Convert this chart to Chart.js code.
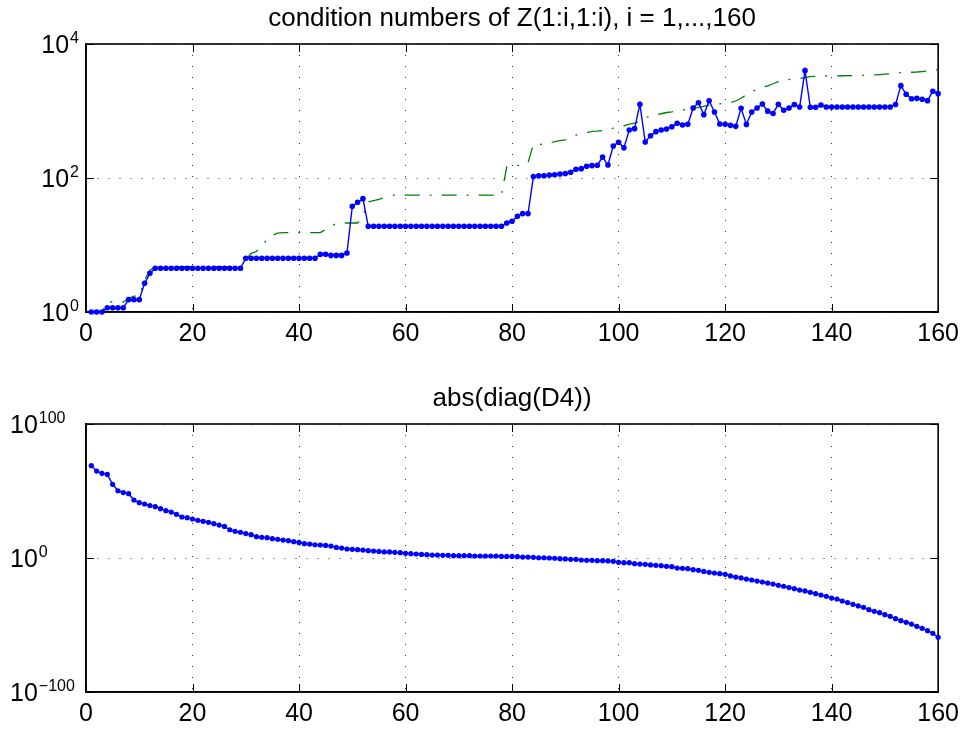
<!DOCTYPE html>
<html><head><meta charset="utf-8">
<script src="https://cdn.jsdelivr.net/npm/chart.js@4.4.1/dist/chart.umd.min.js"></script>
<style>
html,body{margin:0;padding:0;background:#fff;width:966px;height:730px;overflow:hidden}
canvas{position:absolute;left:0}
#top{top:0}
#bot{top:365px}
</style></head><body>
<canvas id="top" width="966" height="365"></canvas>
<canvas id="bot" width="966" height="365"></canvas>
<script>
// ---------- data ----------
const topTitle = 'condition numbers of Z(1:i,1:i), i = 1,...,160';
const bottomTitle = 'abs(diag(D4))';
const xTicks = [0, 20, 40, 60, 80, 100, 120, 140, 160];
const topYTicks = [1, 100, 10000];
const bottomYTicks = [1e-100, 1, 1e100];

// condition number of Z(1:i,1:i), i = 1..160 (blue, dots)
const condZ = [
  1.0, 1.0, 1.0, 1.16, 1.16, 1.16, 1.16, 1.53, 1.53, 1.53,
  2.68, 3.78, 4.49, 4.49, 4.49, 4.49, 4.49, 4.49, 4.49, 4.49,
  4.49, 4.49, 4.49, 4.49, 4.49, 4.49, 4.49, 4.49, 4.49, 6.35,
  6.35, 6.35, 6.35, 6.35, 6.35, 6.35, 6.35, 6.35, 6.35, 6.35,
  6.35, 6.35, 6.35, 7.26, 7.26, 7.0, 7.0, 7.0, 7.6, 37.8,
  43.4, 49.2, 19.0, 19.0, 19.0, 19.0, 19.0, 19.0, 19.0, 19.0,
  19.0, 19.0, 19.0, 19.0, 19.0, 19.0, 19.0, 19.0, 19.0, 19.0,
  19.0, 19.0, 19.0, 19.0, 19.0, 19.0, 19.0, 19.0, 21.3, 22.6,
  26.8, 29.4, 29.4, 105, 108, 108, 111, 112, 115, 117,
  122, 135, 138, 150, 153, 155, 205, 156, 301, 342,
  282, 520, 545, 1262, 345, 428, 492, 520, 538, 583,
  655, 617, 632, 1109, 1331, 882, 1425, 967, 640, 632,
  611, 590, 1096, 631, 966, 1110, 1270, 995, 920, 1260,
  1025, 1110, 1245, 1150, 4000, 1135, 1135, 1230, 1150, 1148,
  1148, 1148, 1148, 1148, 1148, 1148, 1148, 1148, 1148, 1148,
  1148, 1250, 2388, 1775, 1527, 1545, 1494, 1426, 1967, 1815
];

// comparison curve (green, dash-dot)
const boundZ = [
  1.0, 1.0, 1.0, 1.41, 1.41, 1.41, 1.41, 1.6, 1.73, 1.73,
  3.0, 4.2, 4.74, 4.74, 4.74, 4.74, 4.74, 4.74, 4.74, 4.74,
  4.74, 4.74, 4.74, 4.74, 4.74, 4.74, 4.74, 4.74, 4.74, 6.0,
  7.5, 8.0, 9.8, 12, 14, 15, 15.3, 15.3, 15.3, 15.3,
  15.3, 15.3, 15.3, 15.3, 17, 19, 21, 21.3, 21.3, 21.3,
  21.3, 27, 44, 46, 48, 51, 53, 55.7, 55.7, 55.7,
  55.7, 55.7, 55.7, 55.7, 55.7, 55.7, 55.7, 55.7, 55.7, 55.7,
  55.7, 55.7, 55.7, 55.7, 55.7, 55.7, 55.7, 55.7, 147, 150,
  154, 156, 170, 318, 318, 320, 330, 350, 360, 370,
  400, 435, 450, 475, 495, 500, 510, 530, 555, 575,
  600, 635, 660, 710, 790, 850, 880, 910, 950, 970,
  1000, 1035, 1060, 1090, 1130, 1170, 1220, 1250, 1280, 1305,
  1340, 1410, 1550, 1750, 1950, 2100, 2250, 2380, 2550, 2750,
  2880, 2950, 2980, 3050, 3150, 3250, 3300, 3320, 3330, 3340,
  3350, 3360, 3370, 3380, 3400, 3400, 3420, 3450, 3500, 3550,
  3600, 3680, 3730, 3760, 3790, 3820, 3880, 3950, 4080, 4150
];

// log10 of abs(diag(D4)), i = 1..160
const diagD4Log10 = [
  68.9, 64.9, 63.2, 62.4, 55.0, 50.2, 48.8, 48.0, 43.3, 41.3,
  40.3, 39.1, 38.3, 36.8, 35.3, 34.3, 32.6, 30.6, 30.1, 29.1,
  28.1, 27.4, 26.6, 25.6, 24.6, 23.6, 21.1, 19.9, 19.2, 18.2,
  17.4, 15.9, 15.4, 15.2, 14.4, 13.9, 13.4, 12.9, 12.2, 11.6,
  10.7, 10.4, 9.9, 9.7, 9.4, 8.9, 7.9, 7.4, 6.7, 6.5,
  6.2, 5.9, 5.5, 5.2, 4.9, 4.5, 4.5, 4.2, 4.0, 3.5,
  3.2, 3.0, 2.7, 2.5, 2.2, 2.2, 2.0, 2.0, 1.7, 1.7,
  1.7, 1.7, 1.5, 1.5, 1.5, 1.5, 1.5, 1.2, 1.2, 1.2,
  1.0, 0.7, 0.7, 0.5, 0.2, 0.2, 0.0, -0.2, -0.5, -0.7,
  -1.0, -1.0, -1.5, -1.7, -1.7, -2.0, -2.0, -2.2, -2.5, -3.2,
  -3.5, -3.5, -4.2, -4.5, -4.7, -5.2, -5.5, -5.7, -6.2, -6.5,
  -7.5, -7.7, -8.0, -8.7, -9.2, -10.0, -10.7, -11.2, -11.7, -12.2,
  -13.4, -14.2, -14.9, -15.7, -16.4, -17.2, -17.9, -18.7, -19.4, -20.4,
  -21.1, -22.1, -22.9, -23.9, -24.6, -25.6, -26.6, -27.6, -28.6, -29.9,
  -30.6, -32.1, -33.3, -34.6, -35.8, -36.8, -38.6, -39.8, -40.8, -42.3,
  -43.5, -45.3, -46.8, -48.0, -49.3, -51.0, -52.5, -54.2, -56.2, -59.2
];

// ---------- helpers ----------
const FONT = "'Liberation Sans', Arial, Helvetica, sans-serif";
const BASE_SIZE = 25, EXP_SIZE = 16;
const toPoints = arr => arr.map((v, k) => ({x: k + 1, y: v}));
const expOf = v => Math.round(Math.log10(v));

// MATLAB-like box, inward tick marks and "10^n" tick labels with a raised exponent
const matlabAxes = {
  id: 'matlabAxes',
  beforeDatasetsDraw(chart) {
    const {ctx, chartArea: a, scales: {x, y}} = chart;
    const L = 8;
    ctx.save();
    ctx.strokeStyle = '#000';
    ctx.lineWidth = 1;
    ctx.beginPath();
    x.ticks.forEach(t => {
      const px = Math.round(x.getPixelForValue(t.value)) + 0.5;
      ctx.moveTo(px, a.bottom); ctx.lineTo(px, a.bottom - L);
      ctx.moveTo(px, a.top); ctx.lineTo(px, a.top + L);
    });
    y.ticks.forEach(t => {
      const py = Math.round(y.getPixelForValue(t.value)) + 0.5;
      ctx.moveTo(a.left, py); ctx.lineTo(a.left + L, py);
      ctx.moveTo(a.right, py); ctx.lineTo(a.right - L, py);
    });
    ctx.stroke();
    ctx.lineWidth = 1.6;
    ctx.strokeRect(a.left, a.top, a.right - a.left, a.bottom - a.top);
    ctx.restore();
  },
  afterDraw(chart, args, opts) {
    const {ctx, scales: {y}} = chart;
    ctx.save();
    ctx.fillStyle = '#000';
    ctx.textBaseline = 'alphabetic';
    ctx.textAlign = 'left';
    y.ticks.forEach(t => {
      const py = y.getPixelForValue(t.value);
      const base = '10';
      const ex = String(expOf(t.value)).replace('-', '\u2212');
      ctx.font = BASE_SIZE + 'px ' + FONT;
      const wb = ctx.measureText(base).width;
      ctx.font = EXP_SIZE + 'px ' + FONT;
      const we = ctx.measureText(ex).width;
      const x0 = opts.align === 'left' ? opts.edge : opts.edge - wb - 1 - we;
      const baseLine = py + 9;
      ctx.font = BASE_SIZE + 'px ' + FONT;
      ctx.fillText(base, x0, baseLine);
      ctx.font = EXP_SIZE + 'px ' + FONT;
      ctx.fillText(ex, x0 + wb + 1, baseLine - 10);
    });
    ctx.restore();
  }
};

function makeScales(yMin, yMax, yTicks, xHeight, yWidth) {
  const grid = {color: '#333', lineWidth: 1, drawTicks: false};
  const border = {display: true, color: '#000', width: 1.5, dash: [1, 10]};
  return {
    x: {
      type: 'linear', min: 0, max: 160,
      afterBuildTicks: s => { s.ticks = xTicks.map(v => ({value: v})); },
      ticks: {font: {family: FONT, size: BASE_SIZE}, color: '#000', padding: 7, maxRotation: 0, autoSkip: false},
      grid: grid, border: border,
      afterFit: s => { s.height = xHeight; }
    },
    y: {
      type: 'logarithmic', min: yMin, max: yMax,
      afterBuildTicks: s => { s.ticks = yTicks.map(v => ({value: v})); },
      ticks: {display: false, callback: v => '10^' + expOf(v)},
      grid: grid, border: border,
      afterFit: s => { s.width = yWidth; }
    }
  };
}

function titleOpts(text) {
  return {display: true, text: text, fullSize: false, color: '#000',
          font: {family: FONT, size: 26, weight: 'normal', lineHeight: 1.2},
          padding: {top: 3, bottom: 9.8}};
}

new Chart(document.getElementById('top'), {
  type: 'line',
  data: {datasets: [
    {data: toPoints(condZ), borderColor: '#0000ff', backgroundColor: '#0000ff',
     borderWidth: 1.4, pointRadius: 2.8, pointBorderWidth: 0, pointBackgroundColor: '#0000ff',
     tension: 0, clip: false},
    {data: toPoints(boundZ), borderColor: '#008000', borderWidth: 1.3,
     borderDash: [15, 10, 2, 10], pointRadius: 0, tension: 0, clip: false}
  ]},
  options: {
    responsive: false, animation: false, devicePixelRatio: 1,
    layout: {padding: {left: 0, right: 25, top: 0, bottom: 0}},
    scales: makeScales(1, 10000, topYTicks, 53, 86),
    plugins: {legend: {display: false}, tooltip: {enabled: false}, title: titleOpts(topTitle),
              matlabAxes: {align: 'right', edge: 79}}
  },
  plugins: [matlabAxes]
});

new Chart(document.getElementById('bot'), {
  type: 'line',
  data: {datasets: [
    {data: toPoints(diagD4Log10.map(e => Math.pow(10, e))), borderColor: '#0000ff', backgroundColor: '#0000ff',
     borderWidth: 1.4, pointRadius: 2.6, pointBorderWidth: 0, pointBackgroundColor: '#0000ff',
     tension: 0, clip: false}
  ]},
  options: {
    responsive: false, animation: false, devicePixelRatio: 1,
    layout: {padding: {left: 0, right: 25, top: 15, bottom: 0}},
    scales: makeScales(1e-100, 1e100, bottomYTicks, 38, 86),
    plugins: {legend: {display: false}, tooltip: {enabled: false}, title: titleOpts(bottomTitle),
              matlabAxes: {align: 'left', edge: 10}}
  },
  plugins: [matlabAxes]
});
</script>
</body></html>
